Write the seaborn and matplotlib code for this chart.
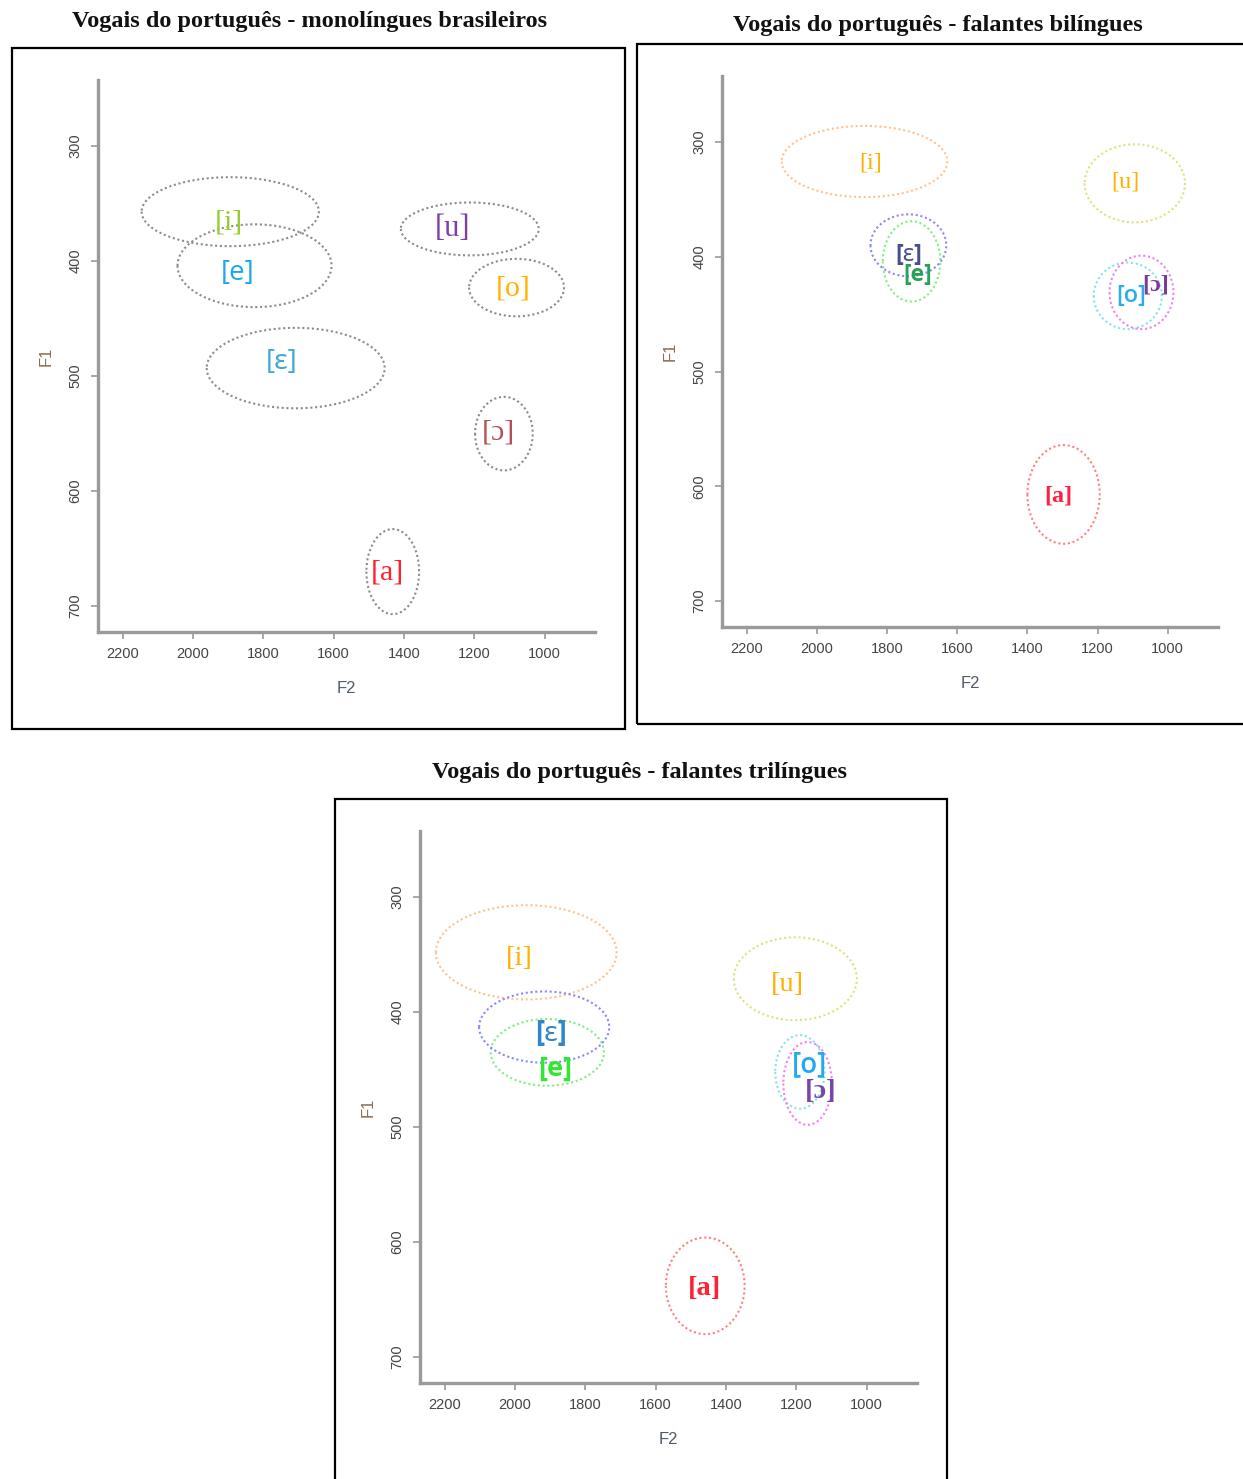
import numpy as np
import pandas as pd
import matplotlib
matplotlib.use("Agg")
import matplotlib.pyplot as plt
from matplotlib.patches import Rectangle
import seaborn as sns

# Vowel inventory (IPA)
vowels = ["i", "e", "ɛ", "u", "o", "ɔ", "a"]

# Monolingual Brazilian speakers: ellipse centre, semi-axes (Hz) and label positions
mono_f2 = [1894, 1825, 1708, 1213, 1080, 1116, 1432]
mono_f1 = [357, 404, 493, 372, 423, 550, 670]
mono_f2_rad = [252, 219, 253, 196, 135, 82, 75]
mono_f1_rad = [30, 36, 35, 23, 25, 32, 37]
mono_lab_f2 = [1897, 1873, 1748, 1262, 1090, 1133, 1446]
mono_lab_f1 = [366, 410, 488, 372, 424, 549, 671]

# Bilingual speakers
bi_f2 = [1864, 1730, 1739, 1094, 1114, 1075, 1297]
bi_f1 = [317, 404, 390, 336, 434, 431, 607]
bi_f2_rad = [236, 82, 108, 143, 97, 91, 103]
bi_f1_rad = [31, 35, 27, 34, 29, 32, 43]
bi_lab_f2 = [1848, 1712, 1739, 1122, 1105, 1036, 1312]
bi_lab_f1 = [318, 416, 398, 335, 434, 425, 608]

# Trilingual speakers
tri_f2 = [1968, 1908, 1917, 1203, 1190, 1168, 1459]
tri_f1 = [348, 435, 413, 371, 452, 462, 638]
tri_f2_rad = [257, 161, 185, 175, 70, 69, 112]
tri_f1_rad = [41, 29, 31, 36, 32, 36, 42]
tri_lab_f2 = [1989, 1885, 1896, 1226, 1163, 1131, 1462]
tri_lab_f1 = [353, 449, 419, 376, 446, 469, 640]

f2_ticks = [2200, 2000, 1800, 1600, 1400, 1200, 1000]
f1_ticks = [300, 400, 500, 600, 700]

mono_label_colors = ["#9ccc34", "#1aa7ee", "#3fa9d6", "#7b3fa8", "#ffb300", "#b5505a", "#ff2030"]
bi_label_colors = ["#ffb000", "#2aa05a", "#4a4e8e", "#ffb000", "#2aaee8", "#7a3aa0", "#ff2040"]
tri_label_colors = ["#ffb000", "#33e633", "#2f86c8", "#ffb000", "#22aaf0", "#7a45a8", "#ff2030"]
mono_ell_colors = ["#8c8c8c"] * 7
multi_ell_colors = ["#ffc48a", "#80ee80", "#8888ff", "#e2e27a", "#80e6e6", "#f080f0", "#ff8080"]

SERIF = ["Liberation Serif", "DejaVu Serif"]
SANS = ["Open Sans", "Noto Sans", "DejaVu Sans"]

sns.set_style("white")
plt.rcParams["font.family"] = ["Liberation Sans", "DejaVu Sans"]

W, H = 1243, 1479
fig = plt.figure(figsize=(W / 100, H / 100), dpi=100)


def px_axes(left, top, right, bottom):
    return fig.add_axes([left / W, 1 - bottom / H, (right - left) / W, (bottom - top) / H])


def frame(left, top, right, bottom):
    fig.patches.append(Rectangle((left / W, 1 - bottom / H), (right - left) / W, (bottom - top) / H,
                                 transform=fig.transFigure, fill=False, edgecolor="black",
                                 linewidth=1.6, zorder=0))


def panel(ax, f2, f1, f2r, f1r, lf2, lf1, ell_colors, lab_colors, fonts, sizes, weights):
    t = np.linspace(0, 2 * np.pi, 240)
    for k, v in enumerate(vowels):
        ring = pd.DataFrame({"F2": f2[k] + f2r[k] * np.cos(t), "F1": f1[k] + f1r[k] * np.sin(t)})
        sns.lineplot(data=ring, x="F2", y="F1", sort=False, estimator=None, ax=ax,
                     color=ell_colors[k], linewidth=1.5, linestyle=(0, (1, 1.3)))
    for k, v in enumerate(vowels):
        ax.text(lf2[k], lf1[k], f"[{v}]", color=lab_colors[k], fontsize=sizes[k],
                family=fonts[k], fontweight=weights[k], ha="center", va="center", zorder=5)
    ax.set_xlim(2270, 857)
    ax.set_ylim(722.5, 242.5)
    ax.set_xticks(f2_ticks)
    ax.set_yticks(f1_ticks)
    ax.set_xticklabels([str(v) for v in f2_ticks], fontsize=10.5, color="#444444")
    ax.set_yticklabels([str(v) for v in f1_ticks], fontsize=10.5, color="#444444",
                       rotation=90, va="center")
    ax.tick_params(axis="both", length=5, width=1.2, color="#9a9a9a", direction="out", pad=6,
                   bottom=True, left=True)
    ax.set_xlabel("F2", fontsize=12, color="#505a6a", labelpad=14)
    ax.set_ylabel("F1", fontsize=12, color="#8c6a4f", labelpad=11)
    sns.despine(ax=ax)
    for s in ("left", "bottom"):
        ax.spines[s].set_color("#9a9a9a")
        ax.spines[s].set_linewidth(2.4)
    ax.patch.set_alpha(0)


# Panel frames and titles
frame(12, 48, 625, 729)
frame(637, 44, 1260, 724)
frame(335, 799, 947, 1500)

title_kw = dict(fontsize=17.5, fontweight="bold", family=SERIF, ha="center", va="center", color="#111111")
fig.text(310 / W, 1 - 22 / H, "Vogais do português - monolíngues brasileiros", **title_kw)
fig.text(938 / W, 1 - 25 / H, "Vogais do português - falantes bilíngues", **title_kw)
fig.text(640 / W, 1 - 772 / H, "Vogais do português - falantes trilíngues", **title_kw)

ax1 = px_axes(98, 80, 595, 632)
panel(ax1, mono_f2, mono_f1, mono_f2_rad, mono_f1_rad, mono_lab_f2, mono_lab_f1,
      mono_ell_colors, mono_label_colors,
      [SERIF, SANS, SANS, SERIF, SERIF, SERIF, SERIF],
      [21.5, 20, 20, 22, 21.5, 21.5, 21.5], ["normal"] * 7)

ax2 = px_axes(722, 76, 1218, 627)
panel(ax2, bi_f2, bi_f1, bi_f2_rad, bi_f1_rad, bi_lab_f2, bi_lab_f1,
      multi_ell_colors, bi_label_colors,
      [SERIF, SANS, SANS, SERIF, SANS, SERIF, SERIF],
      [17.5, 16.5, 17, 17.5, 17, 17.5, 17.5],
      ["normal", "bold", "bold", "normal", "semibold", "bold", "bold"])

ax3 = px_axes(420, 831, 917, 1383)
panel(ax3, tri_f2, tri_f1, tri_f2_rad, tri_f1_rad, tri_lab_f2, tri_lab_f1,
      multi_ell_colors, tri_label_colors,
      [SERIF, SANS, SANS, SERIF, SANS, SERIF, SERIF],
      [20.5, 19.5, 20, 20.5, 20, 20.5, 20.5],
      ["normal", "bold", "bold", "normal", "semibold", "bold", "bold"])

fig.savefig("out.png", dpi=100, facecolor="white")
